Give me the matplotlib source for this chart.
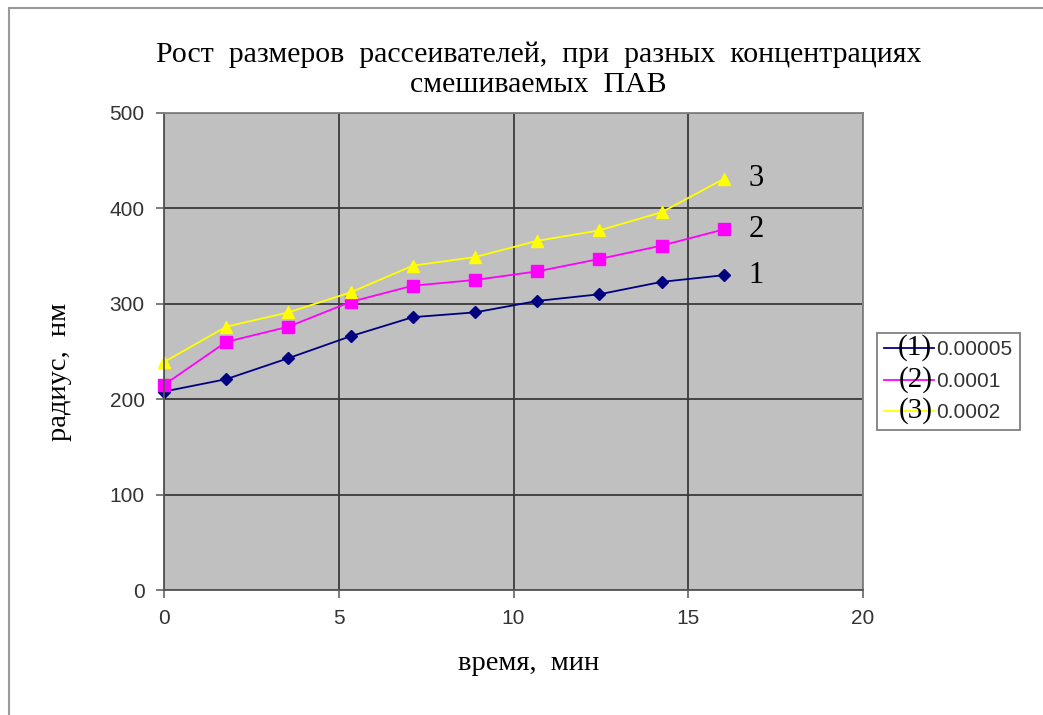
import matplotlib
matplotlib.use('Agg')
import matplotlib.pyplot as plt
from matplotlib.patches import Rectangle

# время, мин
time_min = [0, 1.78, 3.56, 5.34, 7.12, 8.9, 10.68, 12.46, 14.24, 16.02]

# радиус, нм для трёх концентраций ПАВ
radius_1 = [208, 221, 243, 266, 286, 291, 303, 310, 323, 330]
radius_2 = [215, 260, 276, 302, 319, 325, 334, 347, 361, 378]
radius_3 = [239, 276, 291, 312, 340, 349, 366, 377, 396, 431]

conc_labels = ['0.00005', '0.0001', '0.0002']
curve_tags = ['1', '2', '3']

serif = 'Liberation Serif'
sans = 'Liberation Sans'
tick_col = '#333333'

fig = plt.figure(figsize=(10.43, 7.15), dpi=100)
fig.patches.append(Rectangle((9/1043, -0.01), 1.0 - 6/1043, 1 - 8/715 + 0.01,
                             transform=fig.transFigure, fill=False,
                             edgecolor='#9a9a9a', lw=1.5))

ax = fig.add_axes([164/1043, 125/715, 699/1043, 477/715])
ax.set_facecolor('#c0c0c0')

l1, = ax.plot(time_min, radius_1, color='#000080', marker='D', markersize=6, lw=1.3)
l2, = ax.plot(time_min, radius_2, color='#ff00ff', marker='s', markersize=9, lw=1.3)
l3, = ax.plot(time_min, radius_3, color='#ffff00', marker='^', markersize=9, lw=1.3)
for l in (l1, l2, l3):
    l.set_clip_on(False)

ax.set_xlim(0, 20)
ax.set_ylim(0, 500)
ax.set_xticks([0, 5, 10, 15, 20])
ax.set_yticks([0, 100, 200, 300, 400, 500])
ax.grid(True, color='#3a3a3a', lw=1.3)
ax.set_axisbelow(True)
for s in ax.spines.values():
    s.set_color('#808080')
    s.set_linewidth(1.3)
ax.spines['left'].set_color('#555555')
ax.spines['bottom'].set_color('#555555')
ax.tick_params(direction='out', length=6, width=1.2, color='#666666',
               labelsize=15, labelcolor=tick_col, pad=8)
for lab in ax.get_xticklabels() + ax.get_yticklabels():
    lab.set_fontfamily(sans)

ax.set_xlabel('время,  мин', fontfamily=serif, fontsize=20.5, x=0.522, labelpad=16)
ax.set_ylabel('радиус,  нм', fontfamily=serif, fontsize=20.5, y=0.457, labelpad=27)
ax.set_title('Рост  размеров  рассеивателей,  при  разных  концентрациях\nсмешиваемых  ПАВ',
             fontfamily=serif, fontsize=21.5, x=0.536, pad=15, linespacing=1.2)

# номера кривых справа от последних точек
for ys, tag in zip((radius_1, radius_2, radius_3), curve_tags):
    ax.text(time_min[-1] + 0.7, ys[-1], tag, fontfamily=serif, fontsize=22,
            va='center', ha='left')

leg = fig.legend([l1, l2, l3], conc_labels, loc='upper left',
                 bbox_to_anchor=(877/1043, 1 - 333/715), frameon=True,
                 fancybox=False, edgecolor='#808080', prop={'family': sans, 'size': 15},
                 handlelength=2.4, handletextpad=0.1, borderpad=0.35,
                 labelspacing=0.6, borderaxespad=0, framealpha=1)
leg.get_frame().set_linewidth(1.3)
for txt in leg.get_texts():
    txt.set_color(tick_col)
for h in leg.legend_handles:
    h.set_marker('')

# подписи (1), (2), (3) поверх линий легенды
fig.canvas.draw()
for h, tag in zip(leg.legend_handles, curve_tags):
    bb = h.get_window_extent()
    cx = (bb.x0 + bb.x1) / 2 / fig.bbox.width + 6 / 1043
    cy = (bb.y0 + bb.y1) / 2 / fig.bbox.height
    fig.text(cx, cy, '(' + tag + ')', fontfamily=serif, fontsize=21,
             ha='center', va='center', zorder=10)

fig.savefig('out.png', dpi=100, facecolor='white')
